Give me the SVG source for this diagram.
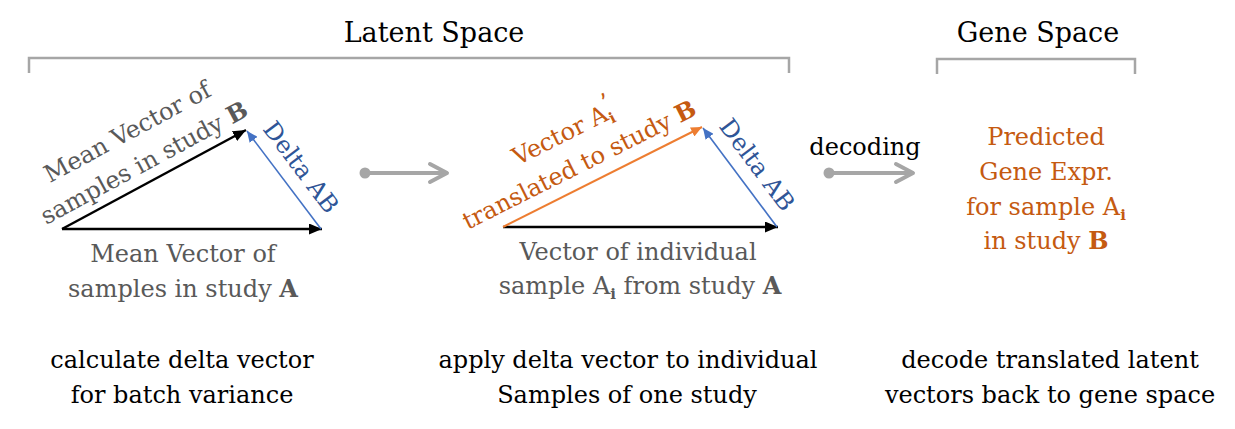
<svg xmlns="http://www.w3.org/2000/svg" width="1235" height="429" viewBox="0 0 1235 429">
<style>
text{font-family:"DejaVu Serif","Liberation Serif",serif;font-size:24px}
.t{fill:#000}
.g{fill:#595959}
.o{fill:#c55a11}
.bl{fill:#2f5597}
.b{font-weight:bold}
.title{font-size:27px;fill:#000}
.br{fill:none;stroke:#a6a6a6;stroke-width:2.5}
.gr{stroke:#a6a6a6;stroke-width:4;fill:none}
.sub{font-size:15px;font-weight:bold}
</style>
<defs>
<marker id="ab" markerUnits="userSpaceOnUse" markerWidth="14" markerHeight="11" refX="13" refY="5.5" orient="auto"><path d="M0,0 L13,5.5 L0,11 z" fill="#000"/></marker>
<marker id="au" markerUnits="userSpaceOnUse" markerWidth="12" markerHeight="10" refX="11" refY="5" orient="auto"><path d="M0,0 L11,5 L0,10 z" fill="#4472c4"/></marker>
<marker id="ao" markerUnits="userSpaceOnUse" markerWidth="12" markerHeight="10" refX="11" refY="5" orient="auto"><path d="M0,0 L11,5 L0,10 z" fill="#ed7d31"/></marker>
<marker id="dot" markerUnits="userSpaceOnUse" markerWidth="12" markerHeight="12" refX="6" refY="6" orient="auto"><circle cx="6" cy="6" r="5.5" fill="#a6a6a6"/></marker>
<marker id="chev" markerUnits="userSpaceOnUse" markerWidth="24" markerHeight="24" refX="20" refY="12" orient="auto"><path d="M3,3 L20,12 L3,21" fill="none" stroke="#a6a6a6" stroke-width="4" stroke-linecap="round" stroke-linejoin="round"/></marker>
</defs>

<g id="latent-space">
<text class="title" x="434" y="42" text-anchor="middle">Latent Space</text>
<path class="br" d="M29,73 V58 H789 V73"/>
</g>
<g id="gene-space">
<text class="title" x="1038" y="42" text-anchor="middle">Gene Space</text>
<path class="br" d="M937,74 V59 H1135 V74"/>
</g>

<g id="connectors">
<line x1="62" y1="229" x2="322" y2="229" stroke="#000" stroke-width="2.5" marker-end="url(#ab)"/>
<line x1="62" y1="229" x2="246" y2="130" stroke="#000" stroke-width="2.5" marker-end="url(#ab)"/>
<line x1="321" y1="229" x2="247" y2="131" stroke="#4472c4" stroke-width="1.6" marker-end="url(#au)"/>
<line x1="365" y1="173" x2="447" y2="173" class="gr" marker-start="url(#dot)" marker-end="url(#chev)"/>
<line x1="503" y1="227" x2="778" y2="227" stroke="#000" stroke-width="2.5" marker-end="url(#ab)"/>
<line x1="503" y1="227" x2="702" y2="127" stroke="#ed7d31" stroke-width="2" marker-end="url(#ao)"/>
<line x1="777" y1="227" x2="703" y2="128" stroke="#4472c4" stroke-width="1.6" marker-end="url(#au)"/>
<line x1="829" y1="173" x2="913" y2="173" class="gr" marker-start="url(#dot)" marker-end="url(#chev)"/>
</g>

<g id="label-mean-b" transform="translate(148,170) rotate(-28.4)">
<text class="g" x="0" y="-35" text-anchor="middle">Mean Vector of</text>
<text class="g" x="0" y="0" text-anchor="middle">samples in study <tspan class="b">B</tspan></text>
</g>
<g id="label-delta-left" transform="translate(294.5,172.2) rotate(53)">
<text class="bl" x="0" y="0" text-anchor="middle">Delta AB</text>
</g>
<g id="label-mean-a">
<text class="g" x="183" y="262" text-anchor="middle">Mean Vector of</text>
<text class="g" x="183" y="297" text-anchor="middle">samples in study <tspan class="b">A</tspan></text>
</g>

<g id="label-translated" transform="translate(583,172) rotate(-26.7)">
<text class="o" x="0" y="-35" text-anchor="middle">Vector A<tspan class="sub" dy="5">i</tspan><tspan dx="-5" dy="-14">’</tspan></text>
<text class="o" x="0" y="0" text-anchor="middle">translated to study <tspan class="b">B</tspan></text>
</g>
<g id="label-delta-mid" transform="translate(750.5,169.7) rotate(53.2)">
<text class="bl" x="0" y="0" text-anchor="middle">Delta AB</text>
</g>
<g id="label-individual">
<text class="g" x="638" y="260" text-anchor="middle">Vector of individual</text>
<text class="g" x="640" y="294" text-anchor="middle">sample A<tspan class="sub" dy="5">i</tspan><tspan dy="-5"> from study </tspan><tspan class="b">A</tspan></text>
</g>

<g id="label-decoding">
<text class="t" x="865" y="155" text-anchor="middle">decoding</text>
</g>

<g id="predicted">
<text class="o" x="1046" y="145" text-anchor="middle">Predicted</text>
<text class="o" x="1046" y="180" text-anchor="middle">Gene Expr.</text>
<text class="o" x="1046" y="215" text-anchor="middle">for sample A<tspan class="sub" dy="5">i</tspan></text>
<text class="o" x="1046" y="249" text-anchor="middle">in study <tspan class="b">B</tspan></text>
</g>

<g id="caption-left">
<text class="t" x="182" y="368" text-anchor="middle">calculate delta vector</text>
<text class="t" x="182" y="403" text-anchor="middle">for batch variance</text>
</g>
<g id="caption-mid">
<text class="t" x="628" y="368" text-anchor="middle">apply delta vector to individual</text>
<text class="t" x="627" y="403" text-anchor="middle">Samples of one study</text>
</g>
<g id="caption-right">
<text class="t" x="1050" y="368" text-anchor="middle">decode translated latent</text>
<text class="t" x="1050" y="403" text-anchor="middle">vectors back to gene space</text>
</g>
</svg>
